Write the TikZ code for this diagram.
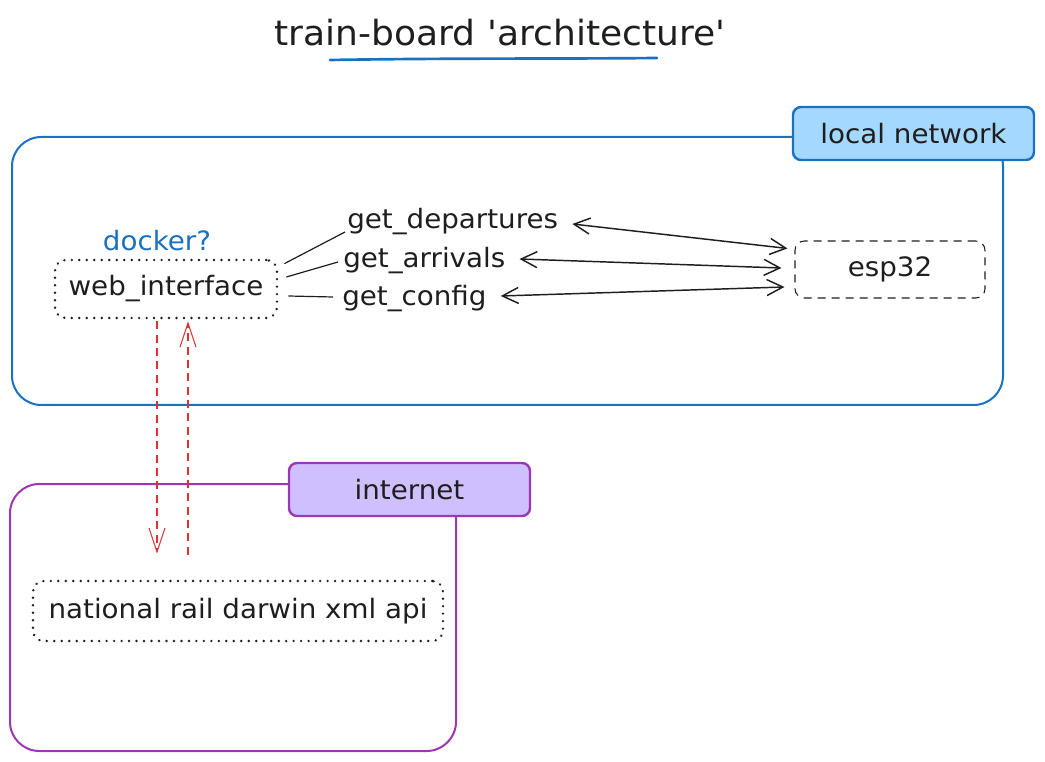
\documentclass[tikz,border=0pt]{standalone}
\usepackage{fontspec}
\setmainfont[FakeStretch=1.04,Ligatures=TeXOff]{DejaVu Sans}
\usetikzlibrary{arrows.meta,calc}
\definecolor{exblue}{HTML}{1971C2}
\definecolor{exlblue}{HTML}{A5D8FF}
\definecolor{expurple}{HTML}{9C36B5}
\definecolor{exlpurple}{HTML}{D0BFFF}
\definecolor{exred}{HTML}{E03131}
\definecolor{ink}{HTML}{1E1E1E}
\begin{document}
\begin{tikzpicture}[x=0.75pt,y=-0.75pt,
  txt/.style={font=\fontsize{20}{24}\selectfont, text=ink, inner sep=0pt},
  dotbox/.style={draw=ink, line width=2pt, dash pattern=on 0.01pt off 5.6pt, line cap=round, rounded corners=8pt, font=\fontsize{20}{24}\selectfont, text=ink},
  dashbox/.style={draw=ink, line width=0.8pt, dash pattern=on 6pt off 4.5pt, rounded corners=7pt, font=\fontsize{20}{24}\selectfont, text=ink},
  tagbox/.style={line width=1.8pt, rounded corners=6pt, font=\fontsize{20}{24}\selectfont, text=ink, minimum width={241*0.75pt}, minimum height={53*0.75pt}},
  container/.style={line width=1.5pt, rounded corners=22pt},
  link/.style={draw=ink, line width=0.9pt},
  dbl/.style={draw=ink, line width=1.1pt, {Straight Barb[length=12pt,width=12pt]}-{Straight Barb[length=12pt,width=12pt]}},
  redarrow/.style={draw=exred, line width=0.8pt, dash pattern=on 6pt off 4pt, -{Straight Barb[length=18pt,width=12pt]}}
]
\useasboundingbox (0,0) rectangle (1045,762);

% title
\node[txt, font=\fontsize{26}{30}\selectfont] (title) at (500,33) {train-board 'architecture'};
\draw[exblue, line width=2pt, line cap=round] (330,60) .. controls (450,58) and (550,59) .. (657,58);

% local network container
\draw[exblue, container] (12,137) rectangle (1003,405);
\node[tagbox, draw=exblue, fill=exlblue] (lnlabel) at (913.5,133.5) {local network};

% internet container
\draw[expurple, container] (10,484) rectangle (456,751);
\node[tagbox, draw=expurple, fill=exlpurple] (inlabel) at (409.5,489.5) {internet};

% nodes
\node[txt, text=exblue] (docker) at (157,241) {docker?};
\node[dotbox, minimum width={222*0.75pt}, minimum height={58*0.75pt}] (web) at (166,289) {web\_interface};
\node[dashbox, minimum width={190*0.75pt}, minimum height={57*0.75pt}] (esp) at (890,269.5) {esp32};
\node[dotbox, minimum width={410*0.75pt}, minimum height={60*0.75pt}] (api) at (238,611) {national rail darwin xml api};

\node[txt, anchor=west] (dep) at (347,222) {get\_departures};
\node[txt, anchor=west] (arr) at (343,261) {get\_arrivals};
\node[txt, anchor=west] (cfg) at (342,299) {get\_config};

% web -> labels
\draw[link] ($(web.north east)+(6,5)$) -- ($(dep.west)+(-2,10)$);
\draw[link] ($(web.east)+(8,-12)$) -- ($(arr.west)+(-5,1)$);
\draw[link] ($(web.east)+(10,7)$) -- ($(cfg.west)+(-9,-2)$);

% labels <-> esp32
\draw[dbl] ($(dep.east)+(14,2)$) -- ($(esp.north west)+(-7,8)$);
\draw[dbl] ($(arr.east)+(14,-2)$) -- ($(esp.west)+(-13,-1.5)$);
\draw[dbl] ($(cfg.east)+(14,-3)$) -- ($(esp.west)+(-10,17.5)$);

% web <-> api (red dashed)
\draw[redarrow] ($(web.south)+(-9,2)$) -- ($(api.north)+(-81,-26)$);
\draw[redarrow] ($(api.north)+(-50,-25)$) -- ($(web.south)+(22,2)$);
\end{tikzpicture}
\end{document}
